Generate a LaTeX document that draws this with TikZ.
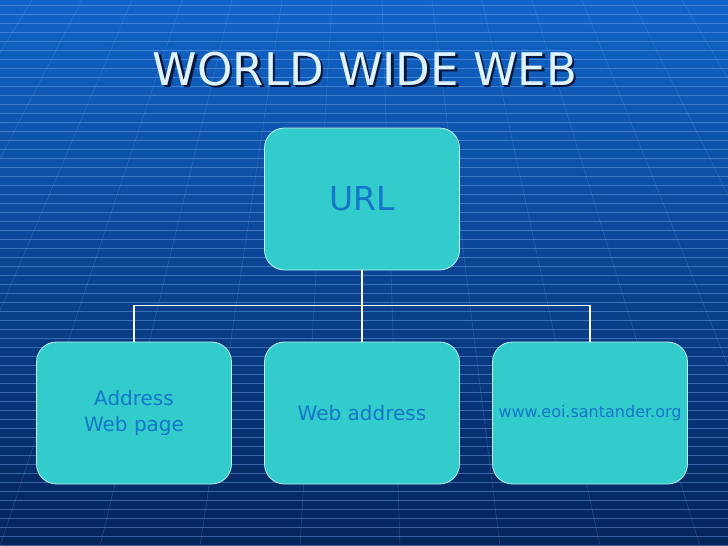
\documentclass[tikz,border=0pt]{standalone}
\usepackage{fontspec}
\setmainfont{DejaVu Sans}
\definecolor{urlteal}{RGB}{51,204,204}
\definecolor{urltext}{RGB}{20,118,200}
\definecolor{bgtop}{RGB}{16,100,200}
\definecolor{bgbottom}{RGB}{5,36,92}
\definecolor{titlefg}{RGB}{222,242,255}
\definecolor{titleshade}{RGB}{8,24,60}
\definecolor{gridblue}{RGB}{120,170,235}
\newcommand{\shadowtext}[1]{\rlap{\kern2.5pt\raisebox{-2.5pt}{\color{titleshade}#1}}#1}

\begin{document}
\begin{tikzpicture}[
    x=1pt, y=-1pt,
    grow=down,
    level 1/.style={sibling distance=228pt, level distance=214pt},
    edge from parent/.style={draw, white, line width=1.6pt},
    edge from parent path={(\tikzparentnode.south) -- ++(0pt,-35pt) -| (\tikzchildnode.north)},
    box/.style={rectangle, rounded corners=20pt, draw=white!70!urlteal, line width=0.8pt,
        fill=urlteal, text=urltext, minimum width=195pt, minimum height=142pt,
        align=center, font=\fontsize{20}{26}\selectfont},
    gridline/.style={line width=0.6pt, draw=gridblue, opacity=0.45},
    titletext/.style={font=\fontsize{45}{50}\selectfont, inner sep=0pt, text=titlefg}
]
\clip (0,0) rectangle (728,546);
\fill[top color=bgtop, bottom color=bgbottom] (0,0) rectangle (728,546);
\foreach \y in {5,14,...,545}
    \draw[gridline] (0,\y) -- (728,\y);
\foreach \x in {-400,-300,...,1100}
    \draw[gridline, opacity=0.25] ({364+(\x-364)*0.5},0) -- (\x,546);

\node[titletext] (title) at (365,70) {\shadowtext{WORLD WIDE WEB}};

\node[box, font=\fontsize{33}{38}\selectfont] (url) at (362,199) {URL}
    child {
        node[box] (address) {Address\\Web page}
    }
    child {
        node[box] (webaddress) {Web address}
    }
    child {
        node[box, font=\fontsize{16}{20}\selectfont] (site) {www.eoi.santander.org}
    };
\end{tikzpicture}
\end{document}
